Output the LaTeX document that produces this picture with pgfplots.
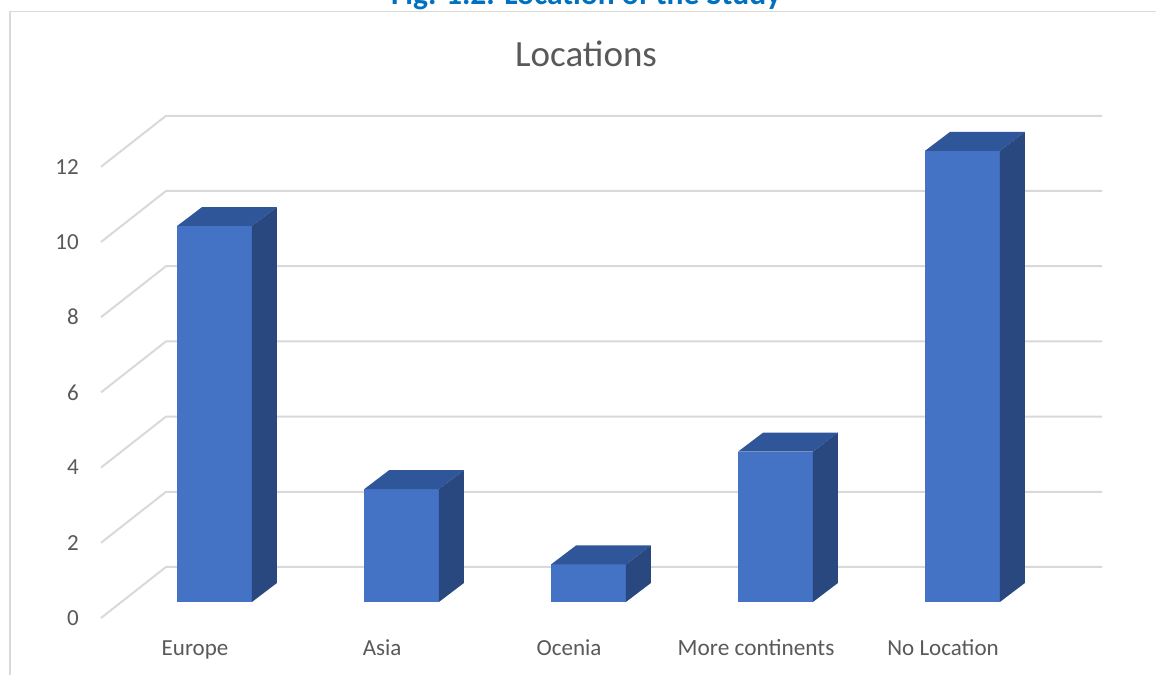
\documentclass[border=0pt]{standalone}
\usepackage{pgfplots}
\pgfplotsset{compat=1.18}
\usepackage{fontspec}
\setmainfont{Carlito}
\definecolor{barfront}{HTML}{4472C4}
\definecolor{bartop}{HTML}{30569A}
\definecolor{barside}{HTML}{2A4880}
\definecolor{gridc}{HTML}{D9D9D9}
\definecolor{txt}{HTML}{595959}
\definecolor{capblue}{HTML}{0070C0}

\newcommand\tdbar[2]{%
 \pgfmathsetmacro\xl{#1-0.2}%
 \pgfmathsetmacro\xr{#1+0.2}%
 \pgfmathsetmacro\xlb{#1-0.2+0.1337}%
 \pgfmathsetmacro\xrb{#1+0.2+0.1337}%
 \pgfmathsetmacro\yb{0.505}%
 \pgfmathsetmacro\yt{#2+0.505}%
 \addplot[fill=barfront,draw=none] coordinates {(\xl,0) (\xr,0) (\xr,#2) (\xl,#2)} -- cycle;
 \addplot[fill=bartop,draw=none] coordinates {(\xl,#2) (\xr,#2) (\xrb,\yt) (\xlb,\yt)} -- cycle;
 \addplot[fill=barside,draw=none] coordinates {(\xr,0) (\xrb,\yb) (\xrb,\yt) (\xr,#2)} -- cycle;
}

\begin{document}
\begin{tikzpicture}
\begin{axis}[
  at={(0,0)}, anchor=south west,
  width=1156bp, height=675bp, scale only axis,
  xmin=-1.1471, xmax=5.0348, ymin=-1.9415, ymax=16.0106,
  hide axis, clip=false,
]
% frame
\draw[gridc, line width=1.5bp] (axis cs:-1.0936,-1.9415) -- (axis cs:-1.0936,15.71) -- (axis cs:5.0348,15.71);
% gridlines
\pgfplotsinvokeforeach{0,2,4,6,8,10,12}{
  \pgfmathsetmacro\ya{#1-0.4255}
  \pgfmathsetmacro\yc{#1+0.931}
  \addplot[gridc, line width=2bp] coordinates {(-0.607,\ya) (-0.2594,\yc) (4.746,\yc)};
  \node[anchor=east, text=txt, font=\fontsize{23bp}{27bp}\selectfont, inner sep=0pt] at (axis cs:-0.7246,#1-0.4255) {#1};
}
% bars: category index, value
\tdbar{0}{10}
\tdbar{1}{3}
\tdbar{2}{1}
\tdbar{3}{4}
\tdbar{4}{12}
% category labels
\node[anchor=base, text=txt, font=\fontsize{23bp}{27bp}\selectfont, inner sep=0pt] at (axis cs:-0.104,-1.41) {Europe};
\node[anchor=base, text=txt, font=\fontsize{23bp}{27bp}\selectfont, inner sep=0pt] at (axis cs:0.896,-1.41) {Asia};
\node[anchor=base, text=txt, font=\fontsize{23bp}{27bp}\selectfont, inner sep=0pt] at (axis cs:1.896,-1.41) {Ocenia};
\node[anchor=base, text=txt, font=\fontsize{23.3bp}{27bp}\selectfont, inner sep=0pt] at (axis cs:2.896,-1.41) {More continents};
\node[anchor=base, text=txt, font=\fontsize{23bp}{27bp}\selectfont, inner sep=0pt] at (axis cs:3.896,-1.41) {No Location};
% title
\node[anchor=base, text=txt, font=\fontsize{37bp}{41bp}\selectfont, inner sep=0pt] at (axis cs:1.987,14.229) {Locations};
% caption (cut off at top, as in the reference)
\node[anchor=base, text=capblue, font=\bfseries\fontsize{31.5bp}{35bp}\selectfont, inner sep=0pt] at (axis cs:1.987,15.878) {Fig. 1.2. Location of the Study};
\end{axis}
\pgfresetboundingbox
\path[use as bounding box] (0,0) rectangle (1156bp,675bp);
\end{tikzpicture}
\end{document}
